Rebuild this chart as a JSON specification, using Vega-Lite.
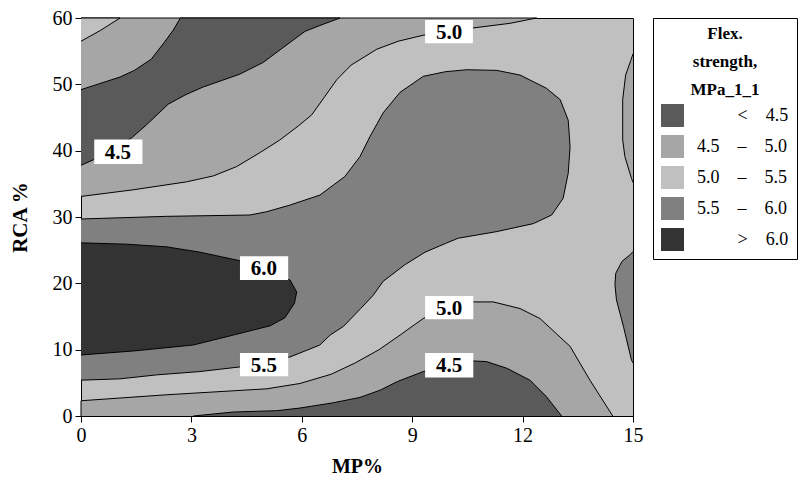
{
  "$schema": "https://vega.github.io/schema/vega-lite/v6.json",
  "width": 552,
  "height": 398,
  "autosize": "none",
  "padding": {"left": 81, "top": 18, "right": 168, "bottom": 63},
  "background": "white",
  "config": {
    "view": {"fill": "#c0c0c0", "stroke": "black", "strokeWidth": 1},
    "font": "Liberation Serif",
    "axis": {"grid": false, "labelFont": "Liberation Serif", "titleFont": "Liberation Serif", "labelColor": "black", "titleColor": "black", "tickColor": "black", "domainColor": "black", "labelFontSize": 20, "titleFontSize": 20, "titleFontWeight": "bold", "tickSize": 6, "labelFlush": false, "labelPadding": 3}
  },
  "datasets": {
    "poly": [
      {"p":"Bbig","z":1,"b":"B","i":0,"x":0,"y":33.1},
      {"p":"Bbig","z":1,"b":"B","i":1,"x":1.42,"y":34.1},
      {"p":"Bbig","z":1,"b":"B","i":2,"x":2.87,"y":35.3},
      {"p":"Bbig","z":1,"b":"B","i":3,"x":3.6,"y":36.2},
      {"p":"Bbig","z":1,"b":"B","i":4,"x":4.23,"y":37.6},
      {"p":"Bbig","z":1,"b":"B","i":5,"x":4.86,"y":39.7},
      {"p":"Bbig","z":1,"b":"B","i":6,"x":5.4,"y":41.6},
      {"p":"Bbig","z":1,"b":"B","i":7,"x":5.9,"y":43.7},
      {"p":"Bbig","z":1,"b":"B","i":8,"x":6.27,"y":45.4},
      {"p":"Bbig","z":1,"b":"B","i":9,"x":6.63,"y":48.2},
      {"p":"Bbig","z":1,"b":"B","i":10,"x":6.95,"y":50.7},
      {"p":"Bbig","z":1,"b":"B","i":11,"x":7.34,"y":52.9},
      {"p":"Bbig","z":1,"b":"B","i":12,"x":8.04,"y":55.3},
      {"p":"Bbig","z":1,"b":"B","i":13,"x":8.62,"y":56.5},
      {"p":"Bbig","z":1,"b":"B","i":14,"x":9.3,"y":57.4},
      {"p":"Bbig","z":1,"b":"B","i":15,"x":10.66,"y":58.5},
      {"p":"Bbig","z":1,"b":"B","i":16,"x":11.66,"y":59.2},
      {"p":"Bbig","z":1,"b":"B","i":17,"x":12.38,"y":60},
      {"p":"Bbig","z":1,"b":"B","i":18,"x":0,"y":60},

      {"p":"Bright","z":1,"b":"B","i":0,"x":15,"y":54.6},
      {"p":"Bright","z":1,"b":"B","i":1,"x":14.94,"y":53.6},
      {"p":"Bright","z":1,"b":"B","i":2,"x":14.8,"y":51.4},
      {"p":"Bright","z":1,"b":"B","i":3,"x":14.72,"y":47.7},
      {"p":"Bright","z":1,"b":"B","i":4,"x":14.72,"y":41.6},
      {"p":"Bright","z":1,"b":"B","i":5,"x":14.78,"y":39.1},
      {"p":"Bright","z":1,"b":"B","i":6,"x":14.96,"y":35.8},
      {"p":"Bright","z":1,"b":"B","i":7,"x":15,"y":35.2},

      {"p":"Bbot","z":1,"b":"B","i":0,"x":0,"y":0},
      {"p":"Bbot","z":1,"b":"B","i":1,"x":0,"y":2.3},
      {"p":"Bbot","z":1,"b":"B","i":2,"x":2.33,"y":3.2},
      {"p":"Bbot","z":1,"b":"B","i":3,"x":5.05,"y":4.1},
      {"p":"Bbot","z":1,"b":"B","i":4,"x":5.95,"y":4.9},
      {"p":"Bbot","z":1,"b":"B","i":5,"x":6.8,"y":6.3},
      {"p":"Bbot","z":1,"b":"B","i":6,"x":7.45,"y":8.0},
      {"p":"Bbot","z":1,"b":"B","i":7,"x":8.1,"y":10.0},
      {"p":"Bbot","z":1,"b":"B","i":8,"x":8.67,"y":12.2},
      {"p":"Bbot","z":1,"b":"B","i":9,"x":9.3,"y":14.7},
      {"p":"Bbot","z":1,"b":"B","i":10,"x":9.9,"y":16.2},
      {"p":"Bbot","z":1,"b":"B","i":11,"x":10.66,"y":17.2},
      {"p":"Bbot","z":1,"b":"B","i":12,"x":11.2,"y":17.2},
      {"p":"Bbot","z":1,"b":"B","i":13,"x":11.93,"y":16.2},
      {"p":"Bbot","z":1,"b":"B","i":14,"x":12.47,"y":14.7},
      {"p":"Bbot","z":1,"b":"B","i":15,"x":13.29,"y":10.5},
      {"p":"Bbot","z":1,"b":"B","i":16,"x":13.83,"y":5.4},
      {"p":"Bbot","z":1,"b":"B","i":17,"x":14.45,"y":0},

      {"p":"Dmain","z":1,"b":"D","i":0,"x":0,"y":29.7},
      {"p":"Dmain","z":1,"b":"D","i":1,"x":2.33,"y":30.1},
      {"p":"Dmain","z":1,"b":"D","i":2,"x":4.59,"y":30.3},
      {"p":"Dmain","z":1,"b":"D","i":3,"x":5.05,"y":30.8},
      {"p":"Dmain","z":1,"b":"D","i":4,"x":5.68,"y":31.8},
      {"p":"Dmain","z":1,"b":"D","i":5,"x":6.49,"y":33.3},
      {"p":"Dmain","z":1,"b":"D","i":6,"x":7.17,"y":36.1},
      {"p":"Dmain","z":1,"b":"D","i":7,"x":7.58,"y":39.1},
      {"p":"Dmain","z":1,"b":"D","i":8,"x":7.85,"y":42.1},
      {"p":"Dmain","z":1,"b":"D","i":9,"x":8.21,"y":45.7},
      {"p":"Dmain","z":1,"b":"D","i":10,"x":8.67,"y":48.8},
      {"p":"Dmain","z":1,"b":"D","i":11,"x":9.3,"y":51.2},
      {"p":"Dmain","z":1,"b":"D","i":12,"x":9.9,"y":51.9},
      {"p":"Dmain","z":1,"b":"D","i":13,"x":10.48,"y":52.2},
      {"p":"Dmain","z":1,"b":"D","i":14,"x":11.3,"y":52.1},
      {"p":"Dmain","z":1,"b":"D","i":15,"x":11.93,"y":51.4},
      {"p":"Dmain","z":1,"b":"D","i":16,"x":12.65,"y":49.4},
      {"p":"Dmain","z":1,"b":"D","i":17,"x":13.02,"y":47.7},
      {"p":"Dmain","z":1,"b":"D","i":18,"x":13.24,"y":44.6},
      {"p":"Dmain","z":1,"b":"D","i":19,"x":13.29,"y":40.6},
      {"p":"Dmain","z":1,"b":"D","i":20,"x":13.24,"y":36.6},
      {"p":"Dmain","z":1,"b":"D","i":21,"x":13.1,"y":32.8},
      {"p":"Dmain","z":1,"b":"D","i":22,"x":12.79,"y":30.3},
      {"p":"Dmain","z":1,"b":"D","i":23,"x":12.29,"y":29.0},
      {"p":"Dmain","z":1,"b":"D","i":24,"x":11.3,"y":27.8},
      {"p":"Dmain","z":1,"b":"D","i":25,"x":10.25,"y":26.8},
      {"p":"Dmain","z":1,"b":"D","i":26,"x":9.9,"y":26.0},
      {"p":"Dmain","z":1,"b":"D","i":27,"x":9.35,"y":24.7},
      {"p":"Dmain","z":1,"b":"D","i":28,"x":8.8,"y":22.8},
      {"p":"Dmain","z":1,"b":"D","i":29,"x":8.21,"y":20.3},
      {"p":"Dmain","z":1,"b":"D","i":30,"x":7.94,"y":18.2},
      {"p":"Dmain","z":1,"b":"D","i":31,"x":7.6,"y":16.2},
      {"p":"Dmain","z":1,"b":"D","i":32,"x":7.13,"y":13.5},
      {"p":"Dmain","z":1,"b":"D","i":33,"x":6.77,"y":12.2},
      {"p":"Dmain","z":1,"b":"D","i":34,"x":6.49,"y":10.7},
      {"p":"Dmain","z":1,"b":"D","i":35,"x":5.68,"y":8.9},
      {"p":"Dmain","z":1,"b":"D","i":36,"x":4.32,"y":7.4},
      {"p":"Dmain","z":1,"b":"D","i":37,"x":3.23,"y":6.7},
      {"p":"Dmain","z":1,"b":"D","i":38,"x":2.06,"y":6.2},
      {"p":"Dmain","z":1,"b":"D","i":39,"x":1.06,"y":5.6},
      {"p":"Dmain","z":1,"b":"D","i":40,"x":0,"y":5.4},

      {"p":"Dright","z":1,"b":"D","i":0,"x":15,"y":24.8},
      {"p":"Dright","z":1,"b":"D","i":1,"x":14.94,"y":24.4},
      {"p":"Dright","z":1,"b":"D","i":2,"x":14.7,"y":23.3},
      {"p":"Dright","z":1,"b":"D","i":3,"x":14.53,"y":21.5},
      {"p":"Dright","z":1,"b":"D","i":4,"x":14.51,"y":19.8},
      {"p":"Dright","z":1,"b":"D","i":5,"x":14.55,"y":17.5},
      {"p":"Dright","z":1,"b":"D","i":6,"x":14.74,"y":13.5},
      {"p":"Dright","z":1,"b":"D","i":7,"x":14.96,"y":8.4},
      {"p":"Dright","z":1,"b":"D","i":8,"x":15,"y":8.0},

      {"p":"Atop","z":2,"b":"A","i":0,"x":0,"y":37.8},
      {"p":"Atop","z":2,"b":"A","i":1,"x":0.33,"y":38.6},
      {"p":"Atop","z":2,"b":"A","i":2,"x":1.37,"y":41.9},
      {"p":"Atop","z":2,"b":"A","i":3,"x":1.78,"y":43.9},
      {"p":"Atop","z":2,"b":"A","i":4,"x":2.37,"y":47.0},
      {"p":"Atop","z":2,"b":"A","i":5,"x":2.83,"y":48.4},
      {"p":"Atop","z":2,"b":"A","i":6,"x":3.32,"y":49.6},
      {"p":"Atop","z":2,"b":"A","i":7,"x":4.3,"y":51.5},
      {"p":"Atop","z":2,"b":"A","i":8,"x":4.95,"y":53.3},
      {"p":"Atop","z":2,"b":"A","i":9,"x":5.41,"y":55.2},
      {"p":"Atop","z":2,"b":"A","i":10,"x":6.09,"y":58.0},
      {"p":"Atop","z":2,"b":"A","i":11,"x":6.6,"y":59.1},
      {"p":"Atop","z":2,"b":"A","i":12,"x":7.04,"y":60},
      {"p":"Atop","z":2,"b":"A","i":13,"x":2.7,"y":60},
      {"p":"Atop","z":2,"b":"A","i":14,"x":2.51,"y":58.2},
      {"p":"Atop","z":2,"b":"A","i":15,"x":2.26,"y":56.3},
      {"p":"Atop","z":2,"b":"A","i":16,"x":1.91,"y":53.8},
      {"p":"Atop","z":2,"b":"A","i":17,"x":1.45,"y":52.1},
      {"p":"Atop","z":2,"b":"A","i":18,"x":1.06,"y":51.1},
      {"p":"Atop","z":2,"b":"A","i":19,"x":0,"y":49.2},

      {"p":"Abot","z":2,"b":"A","i":0,"x":3.05,"y":0},
      {"p":"Abot","z":2,"b":"A","i":1,"x":4.14,"y":0.6},
      {"p":"Abot","z":2,"b":"A","i":2,"x":5.32,"y":0.8},
      {"p":"Abot","z":2,"b":"A","i":3,"x":5.95,"y":1.2},
      {"p":"Abot","z":2,"b":"A","i":4,"x":6.86,"y":2.0},
      {"p":"Abot","z":2,"b":"A","i":5,"x":7.58,"y":2.8},
      {"p":"Abot","z":2,"b":"A","i":6,"x":8.13,"y":3.9},
      {"p":"Abot","z":2,"b":"A","i":7,"x":8.6,"y":5.2},
      {"p":"Abot","z":2,"b":"A","i":8,"x":9.3,"y":6.7},
      {"p":"Abot","z":2,"b":"A","i":9,"x":10.66,"y":8.3},
      {"p":"Abot","z":2,"b":"A","i":10,"x":11.02,"y":8.2},
      {"p":"Abot","z":2,"b":"A","i":11,"x":11.57,"y":7.2},
      {"p":"Abot","z":2,"b":"A","i":12,"x":12.2,"y":5.4},
      {"p":"Abot","z":2,"b":"A","i":13,"x":12.65,"y":2.9},
      {"p":"Abot","z":2,"b":"A","i":14,"x":13.06,"y":0},

      {"p":"Ccorner","z":2,"b":"C","i":0,"x":0,"y":56.5},
      {"p":"Ccorner","z":2,"b":"C","i":1,"x":0.52,"y":58.1},
      {"p":"Ccorner","z":2,"b":"C","i":2,"x":1.06,"y":60},
      {"p":"Ccorner","z":2,"b":"C","i":3,"x":0,"y":60},

      {"p":"Eblob","z":2,"b":"E","i":0,"x":0,"y":26.1},
      {"p":"Eblob","z":2,"b":"E","i":1,"x":1.24,"y":25.9},
      {"p":"Eblob","z":2,"b":"E","i":2,"x":2.33,"y":25.5},
      {"p":"Eblob","z":2,"b":"E","i":3,"x":3.23,"y":24.7},
      {"p":"Eblob","z":2,"b":"E","i":4,"x":4.32,"y":23.4},
      {"p":"Eblob","z":2,"b":"E","i":5,"x":5.68,"y":20.5},
      {"p":"Eblob","z":2,"b":"E","i":6,"x":5.86,"y":18.7},
      {"p":"Eblob","z":2,"b":"E","i":7,"x":5.8,"y":17.0},
      {"p":"Eblob","z":2,"b":"E","i":8,"x":5.54,"y":14.8},
      {"p":"Eblob","z":2,"b":"E","i":9,"x":5.14,"y":13.6},
      {"p":"Eblob","z":2,"b":"E","i":10,"x":4.14,"y":12.2},
      {"p":"Eblob","z":2,"b":"E","i":11,"x":3.05,"y":10.7},
      {"p":"Eblob","z":2,"b":"E","i":12,"x":1.42,"y":9.8},
      {"p":"Eblob","z":2,"b":"E","i":13,"x":0,"y":9.2}
    ],
    "labels": [
      {"t":"4.5","x1":0.36,"x2":1.67,"y1":38.0,"y2":41.7,"xc":1.0,"yc":39.85},
      {"t":"5.0","x1":9.35,"x2":10.65,"y1":56.2,"y2":59.7,"xc":10.0,"yc":57.95},
      {"t":"6.0","x1":4.32,"x2":5.63,"y1":20.5,"y2":24.1,"xc":4.97,"yc":22.3},
      {"t":"5.5","x1":4.32,"x2":5.63,"y1":6.0,"y2":9.5,"xc":4.97,"yc":7.75},
      {"t":"5.0","x1":9.35,"x2":10.66,"y1":14.6,"y2":18.1,"xc":10.0,"yc":16.35},
      {"t":"4.5","x1":9.35,"x2":10.66,"y1":5.8,"y2":9.5,"xc":10.0,"yc":7.65}
    ]
  },
  "layer": [
    {
      "data": {"name": "poly"},
      "transform": [{"filter": "datum.z == 1"}],
      "mark": {"type": "line", "stroke": "black", "strokeWidth": 1, "interpolate": "linear"},
      "encoding": {
        "x": {"field": "x", "type": "quantitative", "scale": {"domain": [0, 15], "nice": false, "zero": false}, "axis": {"values": [0, 3, 6, 9, 12, 15], "title": "MP%", "titlePadding": 11}},
        "y": {"field": "y", "type": "quantitative", "scale": {"domain": [0, 60], "nice": false}, "axis": {"values": [0, 10, 20, 30, 40, 50, 60], "title": "RCA %", "titlePadding": 22, "titleFontSize": 21}},
        "fill": {
          "field": "b", "type": "nominal",
          "scale": {"domain": ["A", "B", "C", "D", "E"], "range": ["#5a5a5a", "#a6a6a6", "#c0c0c0", "#808080", "#333333"]},
          "legend": {
            "title": ["Flex.", "strength,", "MPa_1_1"],
            "orient": "none", "legendX": 572, "legendY": 0,
            "symbolType": "square", "symbolSize": 529, "symbolStrokeWidth": 0, "symbolOpacity": 1,
            "labelFont": "Liberation Serif", "labelFontSize": 18, "labelColor": "black", "labelOffset": 13,
            "titleFont": "Liberation Serif", "titleFontSize": 17, "titleFontWeight": "bold", "titleColor": "black",
            "titleAlign": "center", "titleAnchor": "middle", "titleLineHeight": 28, "titlePadding": 5,
            "strokeColor": "black", "padding": 8, "rowPadding": 8, "labelLimit": 300,
            "labelExpr": "datum.label == 'A' ? '\u2060\u00a0\u00a0\u00a0\u00a0\u00a0\u00a0\u00a0\u00a0\u00a0<\u00a0\u00a0\u00a0\u00a04.5' : datum.label == 'B' ? '4.5\u00a0\u00a0\u00a0\u00a0\u2013\u00a0\u00a0\u00a0\u00a05.0' : datum.label == 'C' ? '5.0\u00a0\u00a0\u00a0\u00a0\u2013\u00a0\u00a0\u00a0\u00a05.5' : datum.label == 'D' ? '5.5\u00a0\u00a0\u00a0\u00a0\u2013\u00a0\u00a0\u00a0\u00a06.0' : '\u2060\u00a0\u00a0\u00a0\u00a0\u00a0\u00a0\u00a0\u00a0\u00a0>\u00a0\u00a0\u00a0\u00a06.0'"
          }
        },
        "detail": {"field": "p"},
        "order": {"field": "i", "type": "quantitative"}
      }
    },
    {
      "data": {"name": "poly"},
      "transform": [{"filter": "datum.z == 2"}],
      "mark": {"type": "line", "stroke": "black", "strokeWidth": 1, "interpolate": "linear"},
      "encoding": {
        "x": {"field": "x", "type": "quantitative"},
        "y": {"field": "y", "type": "quantitative"},
        "fill": {"field": "b", "type": "nominal"},
        "detail": {"field": "p"},
        "order": {"field": "i", "type": "quantitative"}
      }
    },
    {
      "data": {"name": "labels"},
      "mark": {"type": "rect", "fill": "white"},
      "encoding": {
        "x": {"field": "x1", "type": "quantitative"},
        "x2": {"field": "x2"},
        "y": {"field": "y1", "type": "quantitative"},
        "y2": {"field": "y2"}
      }
    },
    {
      "data": {"name": "labels"},
      "mark": {"type": "text", "font": "Liberation Serif", "fontSize": 21, "fontWeight": "bold", "color": "black", "align": "center", "baseline": "middle", "dy": 1},
      "encoding": {
        "x": {"field": "xc", "type": "quantitative"},
        "y": {"field": "yc", "type": "quantitative"},
        "text": {"field": "t", "type": "nominal"}
      }
    }
  ]
}
